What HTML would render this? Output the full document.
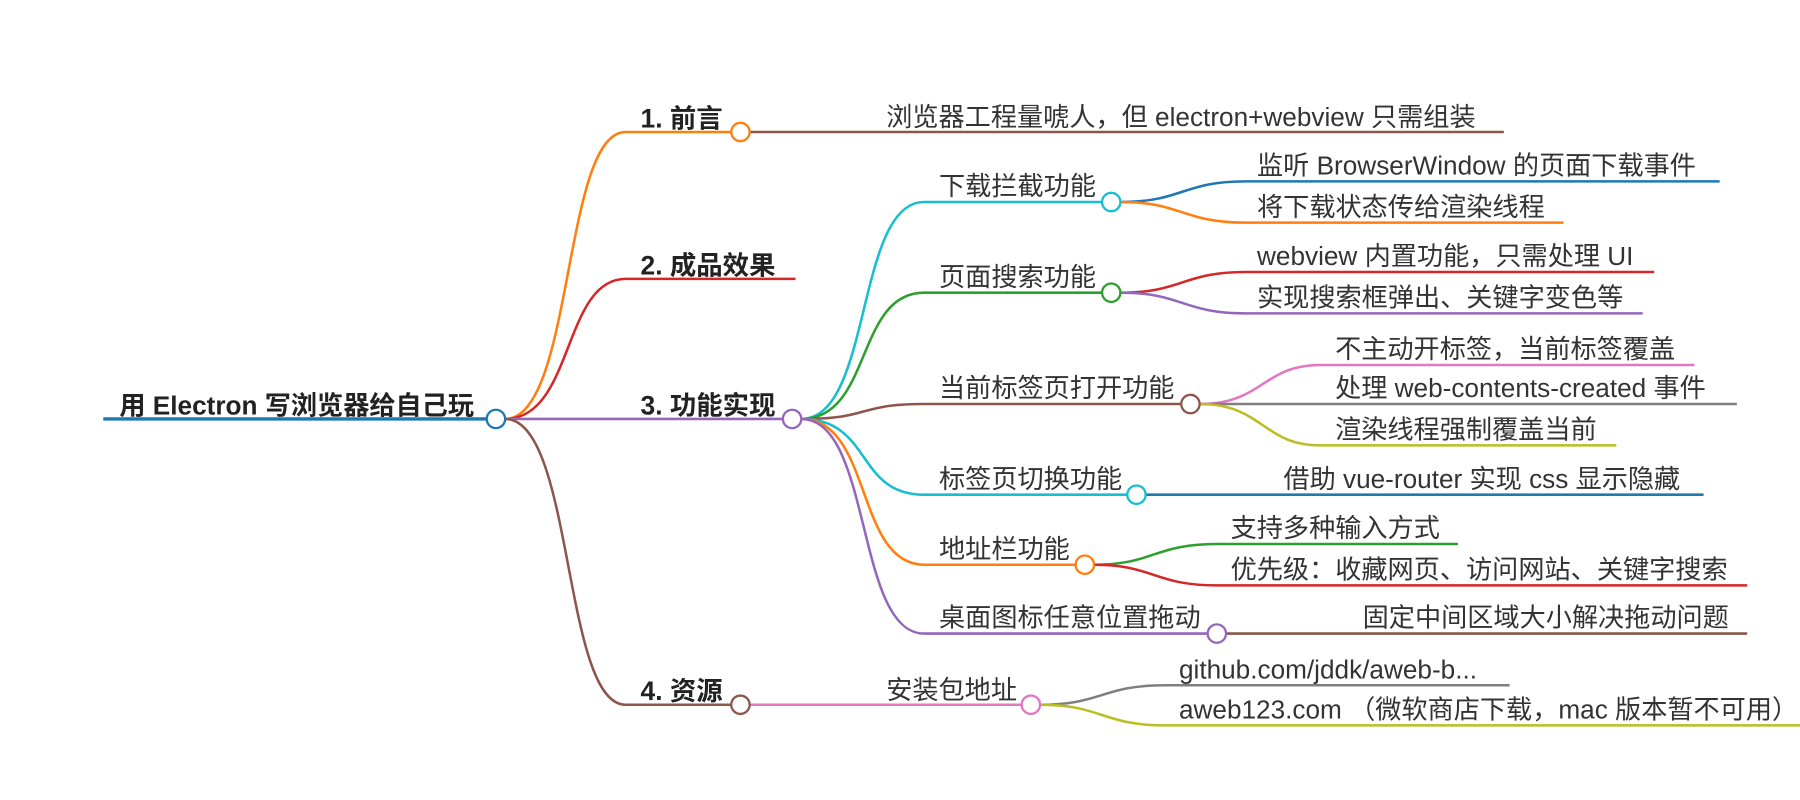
<!DOCTYPE html>
<html><head><meta charset="utf-8"><style>
html,body{margin:0;padding:0;background:#fff;width:1800px;height:800px;overflow:hidden}
svg text{font-family:"Liberation Sans","Noto Sans CJK SC",sans-serif;fill:#333;font-size:22.8px}
.b{font-weight:bold;fill:#222;font-size:23px}
.r{font-size:22.8px}
</style></head><body>
<svg width="1800" height="800" viewBox="0 0 1568 697" preserveAspectRatio="none" xmlns="http://www.w3.org/2000/svg">
<g fill="none" stroke-width="2.2">
<path d="M90 365H432" stroke="#1f77b4" stroke-width="3"/>
<path d="M440 365C500 365 490 115 545 115H645" stroke="#ff7f0e"/>
<path d="M440 365C500 365 490 243 545 243H693" stroke="#d62728"/>
<path d="M440 365H690" stroke="#9467bd"/>
<path d="M440 365C500 365 490 614 545 614H645" stroke="#8c564b"/>
<path d="M653 115H1310" stroke="#8c564b"/>
<path d="M653 614H898" stroke="#e377c2"/>
<path d="M906 614C960 614 960 597 1015 597H1315" stroke="#7f7f7f"/>
<path d="M906 614C960 614 960 632 1015 632H1568" stroke="#bcbd22"/>
<path d="M698 365C760 365 745 176 805 176H968" stroke="#17becf"/>
<path d="M698 365C760 365 745 255 805 255H968" stroke="#2ca02c"/>
<path d="M698 365C760 365 745 352 805 352H1037" stroke="#8c564b"/>
<path d="M698 365C760 365 745 431 805 431H990" stroke="#17becf"/>
<path d="M698 365C760 365 745 492 805 492H945" stroke="#ff7f0e"/>
<path d="M698 365C760 365 745 552 805 552H1060" stroke="#9467bd"/>
<path d="M976 176C1030 176 1030 158 1085 158H1498" stroke="#1f77b4"/>
<path d="M976 176C1030 176 1030 194 1085 194H1362" stroke="#ff7f0e"/>
<path d="M976 255C1030 255 1030 237 1085 237H1441" stroke="#d62728"/>
<path d="M976 255C1030 255 1030 273 1085 273H1431" stroke="#9467bd"/>
<path d="M1045 352C1100 352 1100 318 1150 318H1476" stroke="#e377c2"/>
<path d="M1045 352H1513" stroke="#7f7f7f"/>
<path d="M1045 352C1100 352 1100 388 1150 388H1408" stroke="#bcbd22"/>
<path d="M998 431H1484" stroke="#1f77b4"/>
<path d="M953 492C1005 492 1005 474 1060 474H1270" stroke="#2ca02c"/>
<path d="M953 492C1005 492 1005 510 1060 510H1522" stroke="#d62728"/>
<path d="M1068 552H1522" stroke="#8c564b"/>
</g>
<g fill="#fff" stroke-width="2">
<circle cx="432" cy="365" r="8" stroke="#1f77b4"/>
<circle cx="645" cy="115" r="8" stroke="#ff7f0e"/>
<circle cx="690" cy="365" r="8" stroke="#9467bd"/>
<circle cx="645" cy="614" r="8" stroke="#8c564b"/>
<circle cx="898" cy="614" r="8" stroke="#e377c2"/>
<circle cx="968" cy="176" r="8" stroke="#17becf"/>
<circle cx="968" cy="255" r="8" stroke="#2ca02c"/>
<circle cx="1037" cy="352" r="8" stroke="#8c564b"/>
<circle cx="990" cy="431" r="8" stroke="#17becf"/>
<circle cx="945" cy="492" r="8" stroke="#ff7f0e"/>
<circle cx="1060" cy="552" r="8" stroke="#9467bd"/>
</g>
<text class="b r" x="104" y="361">用 Electron 写浏览器给自己玩</text>
<text class="b" x="558" y="111">1. 前言</text>
<text class="b" x="558" y="239">2. 成品效果</text>
<text class="b" x="558" y="361">3. 功能实现</text>
<text class="b" x="558" y="610">4. 资源</text>
<text x="772" y="110">浏览器工程量唬人，但 electron+webview 只需组装</text>
<text x="772" y="609">安装包地址</text>
<text x="1027" y="591">github.com/jddk/aweb-b...</text>
<text x="1027" y="626">aweb123.com （微软商店下载，mac 版本暂不可用）</text>
<text x="818" y="170">下载拦截功能</text>
<text x="818" y="249">页面搜索功能</text>
<text x="818" y="346">当前标签页打开功能</text>
<text x="818" y="425">标签页切换功能</text>
<text x="818" y="486">地址栏功能</text>
<text x="818" y="546">桌面图标任意位置拖动</text>
<text x="1095" y="152">监听 BrowserWindow 的页面下载事件</text>
<text x="1095" y="188">将下载状态传给渲染线程</text>
<text x="1095" y="231">webview 内置功能，只需处理 UI</text>
<text x="1095" y="267">实现搜索框弹出、关键字变色等</text>
<text x="1163" y="312">不主动开标签，当前标签覆盖</text>
<text x="1163" y="346">处理 web-contents-created 事件</text>
<text x="1163" y="382">渲染线程强制覆盖当前</text>
<text x="1118" y="425">借助 vue-router 实现 css 显示隐藏</text>
<text x="1072" y="468">支持多种输入方式</text>
<text x="1072" y="504">优先级：收藏网页、访问网站、关键字搜索</text>
<text x="1187" y="546">固定中间区域大小解决拖动问题</text>
</svg>
</body></html>
